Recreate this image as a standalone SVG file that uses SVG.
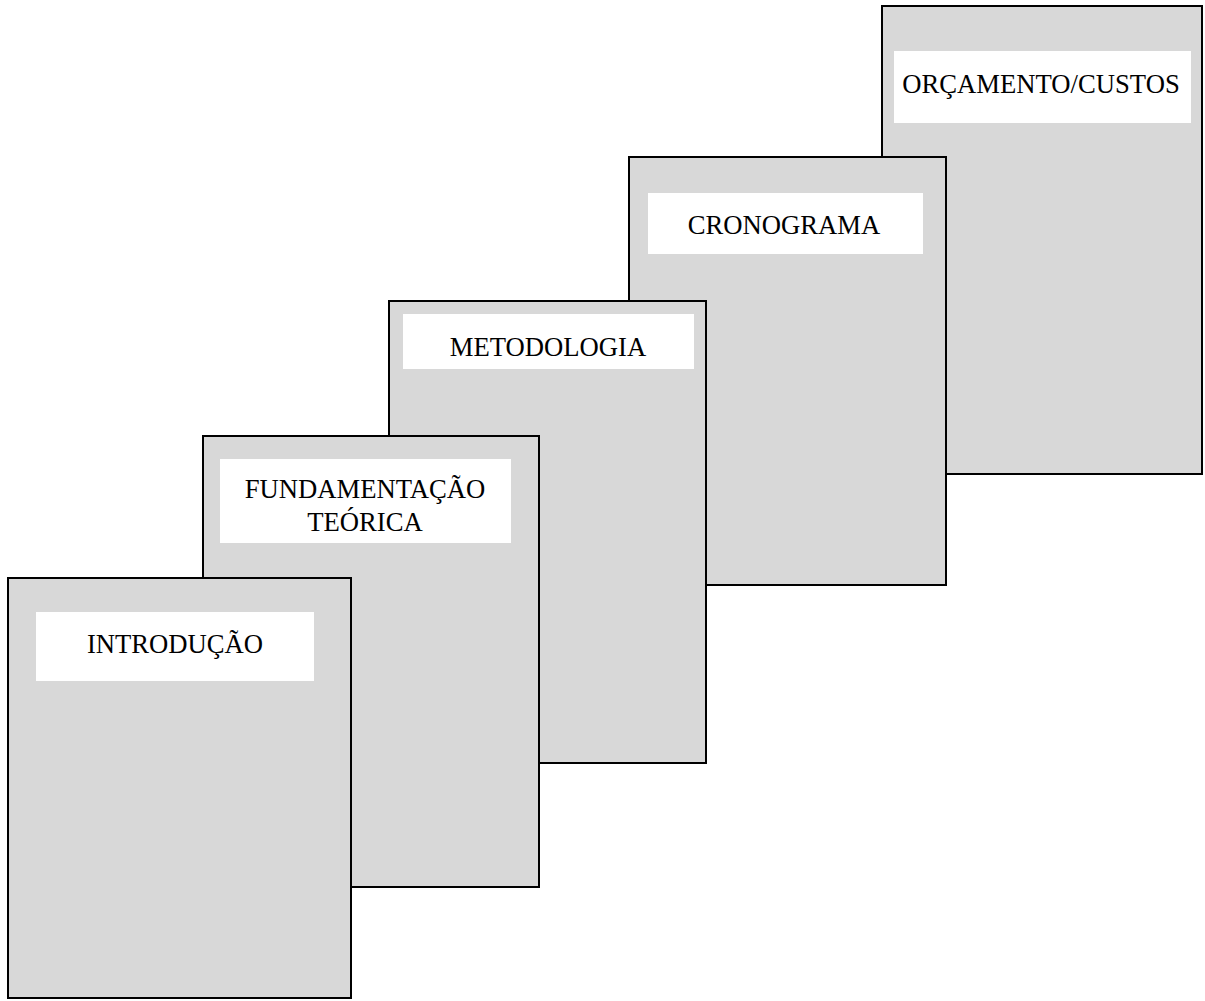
<svg xmlns="http://www.w3.org/2000/svg" width="1205" height="1001" viewBox="0 0 1205 1001">
  <style>
    .page { fill: #d8d8d8; stroke: #000; stroke-width: 2; }
    .tag { fill: #fff; stroke: none; }
    .lbl { font-family: "Liberation Serif", "Times New Roman", serif; font-size: 26.67px; fill: #000; text-anchor: middle; }
  </style>
  <rect width="1205" height="1001" fill="#fff"/>
  <!-- stacked pages, drawn back to front -->
  <g id="orcamento">
    <rect class="page" x="882" y="6" width="320" height="468"/>
    <rect class="tag" x="894" y="51" width="297" height="72"/>
    <text class="lbl" x="1041" y="93">ORÇAMENTO/CUSTOS</text>
  </g>
  <g id="cronograma">
    <rect class="page" x="629" y="157" width="317" height="428"/>
    <rect class="tag" x="648" y="193" width="275" height="61"/>
    <text class="lbl" x="784" y="234">CRONOGRAMA</text>
  </g>
  <g id="metodologia">
    <rect class="page" x="389" y="301" width="317" height="462"/>
    <rect class="tag" x="403" y="314" width="291" height="55"/>
    <text class="lbl" x="548" y="356">METODOLOGIA</text>
  </g>
  <g id="fundamentacao">
    <rect class="page" x="203" y="436" width="336" height="451"/>
    <rect class="tag" x="220" y="459" width="291" height="84"/>
    <text class="lbl" x="365" y="498">FUNDAMENTAÇÃO</text>
    <text class="lbl" x="365" y="531">TEÓRICA</text>
  </g>
  <g id="introducao">
    <rect class="page" x="8" y="578" width="343" height="420"/>
    <rect class="tag" x="36" y="612" width="278" height="69"/>
    <text class="lbl" x="175" y="653">INTRODUÇÃO</text>
  </g>
  <g id="connectors"/>
</svg>
